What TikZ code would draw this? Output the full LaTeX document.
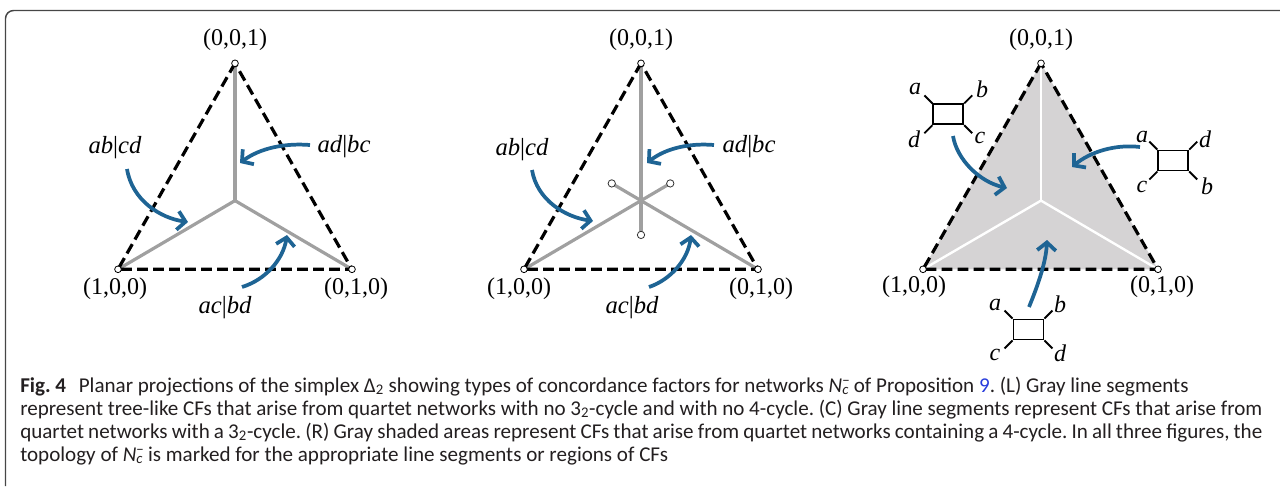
\documentclass[tikz,border=0pt]{standalone}
\usepackage{fontspec}
\setmainfont{Liberation Serif}
\newfontfamily\capfont{Carlito}
\usetikzlibrary{arrows.meta,calc}
\definecolor{arrowblue}{RGB}{30,100,148}
\definecolor{segray}{RGB}{160,160,160}
\definecolor{fillgray}{RGB}{213,211,212}
\definecolor{linkblue}{RGB}{40,60,220}
\definecolor{framegray}{RGB}{70,70,70}
\definecolor{captext}{RGB}{35,31,32}
\tikzset{
  tri/.style={draw=black, line width=2.4pt, dash pattern=on 8pt off 4pt},
  seg/.style={draw=segray, line width=2.4pt},
  wseg/.style={draw=white, line width=1.8pt},
  vtx/.style={circle, draw=black, fill=white, line width=0.6pt, inner sep=0pt, minimum size=5pt},
  endpt/.style={circle, draw=black!80, fill=white, line width=0.6pt, inner sep=0pt, minimum size=5.5pt},
  coordlab/.style={font=\fontsize{18}{20}\selectfont, inner sep=0pt},
  toplab/.style={font=\fontsize{18.5}{20}\selectfont, inner sep=0pt},
  qlab/.style={font=\fontsize{18}{19}\selectfont\itshape, inner sep=0pt},
  qsq/.style={rectangle, draw=black, line width=1.4pt, minimum width=22.5pt, minimum height=15pt, inner sep=0pt},
  qline/.style={draw=black, line width=1.4pt},
  blarrow/.style={draw=arrowblue, line width=2.8pt, -{Straight Barb[length=6pt,width=14pt]}},
  caption/.style={font=\capfont\fontsize{15.8}{18}\selectfont\frenchspacing, text=captext, inner sep=0pt, anchor=base west},
}
\begin{document}
\begin{tikzpicture}[x=0.75pt,y=-0.75pt]
\useasboundingbox (0,0) rectangle (1280,486);
% frame
\draw[framegray, line width=1.1pt, rounded corners=6pt] (5.5,486) -- (5.5,10.5) -- (1280,10.5);

% ================= LEFT =================
\coordinate (LT) at (235,63.3);
\coordinate (LA) at (118,269.3);
\coordinate (LB) at (352,269.3);
\coordinate (LC) at (235,200.6);
\draw[seg] (LC) -- (LT);
\draw[seg] (LC) -- (LA);
\draw[seg] (LC) -- (LB);
\draw[tri] (LT) -- (LA) -- (LB) -- cycle;
\node[vtx] (LTv) at (LT) {};
\node[vtx] (LAv) at (LA) {};
\node[vtx] (LBv) at (LB) {};
\node[coordlab] (LTl) at (235,40) {(0,0,1)};
\node[coordlab] (LAl) at (115,289) {(1,0,0)};
\node[coordlab] (LBl) at (356,289) {(0,1,0)};
\node[toplab] (Lab) at (115,148) {\textit{ab}|\textit{cd}};
\node[toplab] (Lad) at (344,147) {\textit{ad}|\textit{bc}};
\node[toplab] (Lac) at (225,308) {\textit{ac}|\textit{bd}};
\coordinate (Lab1) at (127,169);
\coordinate (Lab2) at (188,222);
\coordinate (Lad1) at (310,145);
\coordinate (Lad2) at (240,163);
\coordinate (Lac1) at (242,287);
\coordinate (Lac2) at (287,235);
\draw[blarrow] (Lab1) .. controls (132,200) and (160,218) .. (Lab2);
\draw[blarrow] (Lad1) .. controls (285,143) and (260,148) .. (Lad2);
\draw[blarrow] (Lac1) .. controls (265,280) and (283,260) .. (Lac2);

% ================= CENTER =================
\coordinate (CT) at (641,63.3);
\coordinate (CA) at (524,269.3);
\coordinate (CB) at (758,269.3);
\coordinate (CC) at (641,200.6);
\coordinate (CTe) at ($(CC)!-0.25!(CT)$);
\coordinate (CAe) at ($(CC)!-0.25!(CA)$);
\coordinate (CBe) at ($(CC)!-0.25!(CB)$);
\draw[seg] (CT) -- (CTe);
\draw[seg] (CA) -- (CAe);
\draw[seg] (CB) -- (CBe);
\draw[tri] (CT) -- (CA) -- (CB) -- cycle;
\node[vtx] (CTv) at (CT) {};
\node[vtx] (CAv) at (CA) {};
\node[vtx] (CBv) at (CB) {};
\node[endpt] (CTen) at (CTe) {};
\node[endpt] (CAen) at (CAe) {};
\node[endpt] (CBen) at (CBe) {};
\node[coordlab] (CTl) at (641,40) {(0,0,1)};
\node[coordlab] (CAl) at (519,289) {(1,0,0)};
\node[coordlab] (CBl) at (761,289) {(0,1,0)};
\node[toplab] (Cab) at (522,150) {\textit{ab}|\textit{cd}};
\node[toplab] (Cad) at (749,147) {\textit{ad}|\textit{bc}};
\node[toplab] (Cac) at (632,308) {\textit{ac}|\textit{bd}};
\coordinate (Cab1) at (532,170);
\coordinate (Cab2) at (593,221);
\coordinate (Cad1) at (714,145);
\coordinate (Cad2) at (647,163);
\coordinate (Cac1) at (649,287);
\coordinate (Cac2) at (691,235);
\draw[blarrow] (Cab1) .. controls (537,200) and (565,217) .. (Cab2);
\draw[blarrow] (Cad1) .. controls (690,143) and (666,148) .. (Cad2);
\draw[blarrow] (Cac1) .. controls (670,280) and (688,260) .. (Cac2);

% ================= RIGHT =================
\coordinate (RT) at (1041,63.3);
\coordinate (RA) at (923,269.3);
\coordinate (RB) at (1158,269.3);
\coordinate (RC) at (1041,200.6);
\fill[fillgray] (RT) -- (RA) -- (RB) -- cycle;
\draw[wseg] (RC) -- (RT);
\draw[wseg] (RC) -- (RA);
\draw[wseg] (RC) -- (RB);
\draw[tri] (RT) -- (RA) -- (RB) -- cycle;
\node[vtx] (RTv) at (RT) {};
\node[vtx] (RAv) at (RA) {};
\node[vtx] (RBv) at (RB) {};
\node[coordlab] (RTl) at (1041,40) {(0,0,1)};
\node[coordlab] (RAl) at (914,287) {(1,0,0)};
\node[coordlab] (RBl) at (1162,287) {(0,1,0)};

% quartet boxes
\node[qsq] (Q1) at (948.3,114.3) {};
\draw[qline] (Q1.north west) -- ++(-8,-8);
\draw[qline] (Q1.north east) -- ++(8,-8);
\draw[qline] (Q1.south west) -- ++(-8,8);
\draw[qline] (Q1.south east) -- ++(8,8);
\node[qlab] (Q1a) at (915,89) {a};
\node[qlab] (Q1b) at (982,89) {b};
\node[qlab] (Q1d) at (914,139) {d};
\node[qlab] (Q1c) at (980,138) {c};

\node[qsq] (Q2) at (1173.3,160.5) {};
\draw[qline] (Q2.north west) -- ++(-8,-8);
\draw[qline] (Q2.north east) -- ++(8,-8);
\draw[qline] (Q2.south west) -- ++(-8,8);
\draw[qline] (Q2.south east) -- ++(8,8);
\node[qlab] (Q2a) at (1142,137) {a};
\node[qlab] (Q2d) at (1205,139) {d};
\node[qlab] (Q2c) at (1142,187) {c};
\node[qlab] (Q2b) at (1207,186) {b};

\node[qsq] (Q3) at (1028.5,329.5) {};
\draw[qline] (Q3.north west) -- ++(-8,-8);
\draw[qline] (Q3.north east) -- ++(8,-8);
\draw[qline] (Q3.south west) -- ++(-8,8);
\draw[qline] (Q3.south east) -- ++(8,8);
\node[qlab] (Q3a) at (995,305) {a};
\node[qlab] (Q3b) at (1060,304) {b};
\node[qlab] (Q3c) at (995,355) {c};
\node[qlab] (Q3d) at (1060,353) {d};

\coordinate (R11) at (953,136);
\coordinate (R12) at (1007,188);
\coordinate (R21) at (1140,147);
\coordinate (R22) at (1072,167);
\coordinate (R31) at (1029,307);
\coordinate (R32) at (1047,240);
\draw[blarrow] (R11) .. controls (957,160) and (980,182) .. (R12);
\draw[blarrow] (R21) .. controls (1115,144) and (1090,152) .. (R22);
\draw[blarrow] (R31) .. controls (1038,285) and (1046,262) .. (R32);

% ================= CAPTION =================
\node[caption] (cap1) at (20,392) {\textbf{Fig. 4}\hspace{0.6em}Planar projections of the simplex Δ\textsubscript{2} showing types of concordance factors for networks \textit{N}\rlap{\textsuperscript{−}}\textsubscript{\textit{c}} of Proposition {\color{linkblue}9}. (L) Gray line segments};
\node[caption] (cap2) at (20,415) {\makebox[931.5pt][s]{represent tree-like CFs that arise from quartet networks with no 3\textsubscript{2}-cycle and with no 4-cycle. (C) Gray line segments represent CFs that arise from}};
\node[caption] (cap3) at (20,438) {\makebox[931.5pt][s]{quartet networks with a 3\textsubscript{2}-cycle. (R) Gray shaded areas represent CFs that arise from quartet networks containing a 4-cycle. In all three figures, the}};
\node[caption] (cap4) at (20,461) {topology of \textit{N}\rlap{\textsuperscript{−}}\textsubscript{\textit{c}} is marked for the appropriate line segments or regions of CFs};
\end{tikzpicture}
\end{document}
